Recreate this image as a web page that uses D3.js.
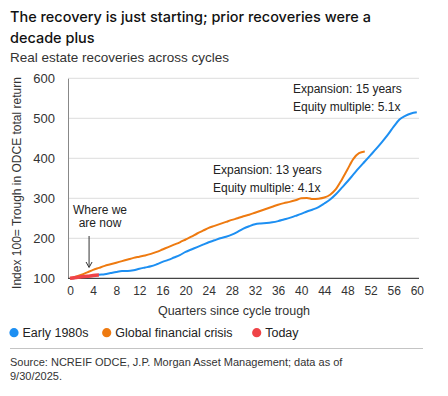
<!DOCTYPE html>
<html><head><meta charset="utf-8">
<script src="https://cdn.jsdelivr.net/npm/d3@7"></script>
<style>
body{margin:0;background:#fff;}
svg{display:block;font-family:"Liberation Sans",Arial,sans-serif;}
</style></head>
<body><svg id="c" width="448" height="396"></svg>
<script>
const quartersBlue = d3.range(0, 61);
const early1980s = [100,101,103,105,107,109,110,113,116,118,118,120,124,127,130,135,141,146,152,158,166,172,178,184,190,195,200,204,209,216,224,230,235,237,238,240,243,247,251,256,261,267,272,278,287,297,310,326,342,359,376,392,408,424,441,459,479,497,506,512,515];
const gfc = [100,104,109,115,121,126,131,135,139,143,147,151,154,157,161,166,172,178,184,190,197,204,212,219,226,231,236,241,246,250,255,259,264,269,274,279,284,288,291,295,300,301,298,299,302,309,323,346,372,398,413,417];
const today = [100,102,104,105,107,108];
const xTicks = d3.range(0, 61, 4);
const yTicks = [100,200,300,400,500,600];
const seriesNames = ["Early 1980s","Global financial crisis","Today"];
const colors = ["#1d8ff2","#ee7a10","#ef4347"];

const svg = d3.select("#c");
const x = d3.scaleLinear().domain([0,60]).range([70,416.8]);
const y = d3.scaleLinear().domain([100,600]).range([278.3,78.3]);

// titles
const t1 = svg.append("text").attr("x",10).attr("y",22).attr("font-size",15.5).attr("font-family","Inter, Liberation Sans, sans-serif").attr("font-weight",500).attr("fill","#111")
  .text("The recovery is just starting; prior recoveries were a");
svg.append("text").attr("x",10).attr("y",43).attr("font-size",15.5).attr("font-family","Inter, Liberation Sans, sans-serif").attr("font-weight",500).attr("fill","#111")
  .text("decade plus");
svg.append("text").attr("x",10).attr("y",62).attr("font-size",13.5).attr("fill","#333")
  .text("Real estate recoveries across cycles");

// grid
svg.append("g").selectAll("line").data(yTicks.slice(1)).join("line")
  .attr("x1",68).attr("x2",419).attr("y1",d=>y(d)).attr("y2",d=>y(d))
  .attr("stroke","#dcdcdc").attr("stroke-width",1);

// axes
const yAxis = svg.append("g").attr("transform","translate(68,0)")
  .call(d3.axisLeft(y).tickValues(yTicks).tickSize(0).tickPadding(13));
yAxis.select(".domain").attr("stroke","#888");
yAxis.selectAll("text").attr("font-size",13).attr("fill","#333").attr("font-family","Liberation Sans, Arial, sans-serif");

const xAxis = svg.append("g").attr("transform","translate(0,278.3)")
  .call(d3.axisBottom(x).tickValues(xTicks).tickSize(0).tickPadding(8));
xAxis.select(".domain").attr("stroke","#444").attr("stroke-width",1.3).attr("d","M68,0H419");
xAxis.selectAll("text").attr("font-size",12).attr("fill","#333").attr("font-family","Liberation Sans, Arial, sans-serif");

svg.append("text").attr("transform","translate(21,183) rotate(-90)").attr("text-anchor","middle")
  .attr("font-size",12).attr("fill","#333").text("Index 100= Trough in ODCE total return");
svg.append("text").attr("x",234).attr("y",315).attr("text-anchor","middle")
  .attr("font-size",12.5).attr("fill","#333").text("Quarters since cycle trough");

// lines
const line = d3.line().x((d,i)=>x(i)).y(d=>y(d)).curve(d3.curveMonotoneX);
svg.append("path").attr("d",line(early1980s)).attr("fill","none").attr("stroke",colors[0]).attr("stroke-width",2);
svg.append("path").attr("d",line(gfc)).attr("fill","none").attr("stroke",colors[1]).attr("stroke-width",2);
svg.append("path").attr("d",line(today)).attr("fill","none").attr("stroke",colors[2]).attr("stroke-width",3.5);

// annotations
const ann = svg.append("g").attr("font-size",12).attr("fill","#222");
ann.append("text").attr("x",100).attr("y",214).attr("text-anchor","middle").text("Where we");
ann.append("text").attr("x",100).attr("y",227).attr("text-anchor","middle").text("are now");
svg.append("line").attr("x1",x(3.3)).attr("x2",x(3.3)).attr("y1",236).attr("y2",266).attr("stroke","#333").attr("stroke-width",1);
svg.append("path").attr("d",`M${x(3.3)-3},${262}L${x(3.3)},${267.5}L${x(3.3)+3},${262}`).attr("fill","none").attr("stroke","#333").attr("stroke-width",1);

ann.append("text").attr("x",213).attr("y",174).text("Expansion: 13 years");
ann.append("text").attr("x",213).attr("y",192).text("Equity multiple: 4.1x");
ann.append("text").attr("x",293).attr("y",93).text("Expansion: 15 years");
ann.append("text").attr("x",293).attr("y",111).text("Equity multiple: 5.1x");

// legend
const leg = svg.append("g");
const legX = [14,106.7,256.7];
seriesNames.forEach((n,i)=>{
  leg.append("circle").attr("cx",legX[i]).attr("cy",332.7).attr("r",4.6).attr("fill",colors[i]);
  leg.append("text").attr("x",legX[i]+8.5).attr("y",337.3).attr("font-size",12.5).attr("fill","#222").text(n);
});

svg.append("line").attr("x1",10).attr("x2",423).attr("y1",348.5).attr("y2",348.5).attr("stroke","#c4c4c4");
svg.append("text").attr("x",10).attr("y",365.5).attr("font-size",11).attr("fill","#333")
  .text("Source: NCREIF ODCE, J.P. Morgan Asset Management; data as of");
svg.append("text").attr("x",10).attr("y",380).attr("font-size",11).attr("fill","#333").text("9/30/2025.");

// fit title width to reference span
const w = t1.node().getComputedTextLength();
if (w > 0) {
  const s = 15.5 * 361 / w;
  svg.selectAll("text").filter(function(){return this.getAttribute("font-family") && this.getAttribute("font-family").startsWith("Inter");}).attr("font-size", s);
}
</script></body></html>
